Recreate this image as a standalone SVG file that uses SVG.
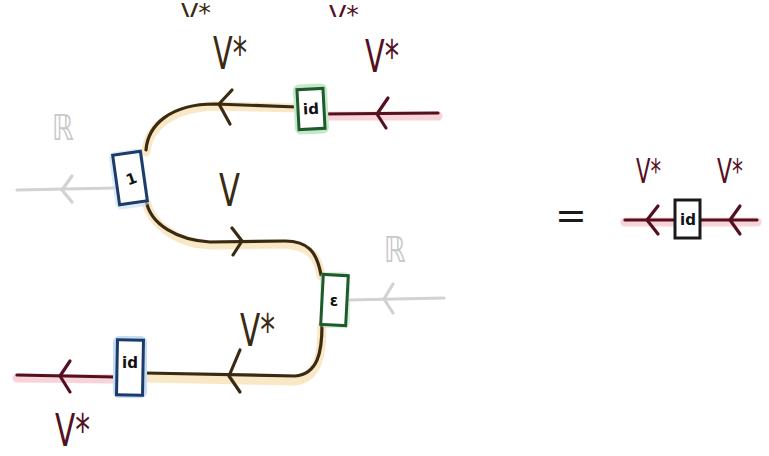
<svg xmlns="http://www.w3.org/2000/svg" width="769" height="456" viewBox="0 0 769 456">
<defs>
<clipPath id="topclip"><rect x="0" y="0" width="769" height="17"/></clipPath>
<style>
.hb{fill:none;stroke:#f8e2b8;stroke-width:9;stroke-linecap:round;opacity:0.8}
.hr{fill:none;stroke:#f6c8d0;stroke-width:9;stroke-linecap:round;opacity:0.8}
.b{fill:none;stroke:#3b2a12;stroke-width:3.2;stroke-linecap:round;stroke-linejoin:round}
.r{fill:none;stroke:#55101f;stroke-width:3.2;stroke-linecap:round;stroke-linejoin:round}
.g{fill:none;stroke:#d2d2d2;stroke-width:3.2;stroke-linecap:round;stroke-linejoin:round}
.box{fill:#ffffff;stroke-width:3}
.blue{stroke:#1b3c6b}
.green{stroke:#1d5a2c}
.blk{stroke:#1a1a1a}
.gb{fill:#c6ddf3}
.gg{fill:#c4e8c8}
.t{font-family:'DejaVu Sans','Liberation Sans',sans-serif}
.lb{fill:#3b2a12;font-size:44px}
.lr{fill:#55101f;font-size:44px}
.ls{font-size:34px}
.lc{font-size:24px}
.lg{fill:#c8c8c8;font-size:36px}
.bt{fill:#111;font-size:15px;font-weight:bold;text-anchor:middle}
</style>
</defs>
<g id="cutoff" clip-path="url(#topclip)">
<text class="t lb lc" x="181" y="21" textLength="30" lengthAdjust="spacingAndGlyphs">V*</text>
<text class="t lr lc" x="329" y="23" textLength="30" lengthAdjust="spacingAndGlyphs">V*</text>
</g>
<g id="connectors">
<path class="hb" d="M297,108 L215,106 C170,108 148,128 146,152"/>
<path class="b" d="M297,107 L215,104 C170,104 148,125 146,150"/>
<path class="hr" d="M324,116 L438,116"/>
<path class="r" d="M324,114 L438,113"/>
<path class="g" d="M115,188 L17,190"/>
<path class="hb" d="M146,202 C152,226 180,244 210,245 L285,244 C310,246 318,256 321,276"/>
<path class="b" d="M146,200 C150,225 178,240 210,242 L285,241 C308,241 317,252 321,275"/>
<path class="g" d="M348,300 L444,298"/>
<path class="hb" d="M322,326 C322,355 318,378 295,381 L145,378"/>
<path class="b" d="M322,325 C322,352 318,374 295,376 L145,373"/>
<path class="hr" d="M116,379 L17,378"/>
<path class="r" d="M116,377 L17,375"/>
<path class="hr" d="M625,222 L757,222"/>
<path class="r" d="M625,220 L675,220 M700,220 L757,220"/>
<path class="b" d="M232,90 L219,104 L230,124"/>
<path class="r" d="M388,98 L377,114 L386,128"/>
<path class="g" d="M72,176 L62,190 L72,202"/>
<path class="b" d="M232,228 L242,241 L233,255"/>
<path class="g" d="M393,284 L384,299 L393,313"/>
<path class="b" d="M240,350 L229,376 L240,392"/>
<path class="r" d="M70,361 L60,376 L70,392"/>
<path class="r" d="M658,206 L647,220 L658,234"/>
<path class="r" d="M740,206 L730,220 L740,234"/>
</g>
<g id="box-id-top">
<rect class="gg" x="294" y="84" width="34" height="50" rx="6" transform="rotate(-3 311 109)"/>
<rect class="box green" x="298" y="89" width="26" height="40" transform="rotate(-3 311 109)"/>
<text class="t bt" x="311" y="114" transform="rotate(-3 311 109)">id</text>
</g>
<g id="box-unit">
<rect class="gb" x="112" y="150" width="34" height="58" rx="6" transform="rotate(-8 130 178)" opacity="0.6"/>
<rect class="box blue" x="116" y="153" width="28" height="50" transform="rotate(-8 130 178)"/>
<text class="t bt" x="131" y="184" transform="rotate(-20 131 178)">1</text>
</g>
<g id="box-eps">
<rect class="gg" x="320" y="272" width="30" height="56" rx="6" opacity="0.6"/>
<rect class="box green" x="322" y="275" width="25" height="50" transform="rotate(3 334 300)"/>
<text class="t bt" x="334" y="306">ε</text>
</g>
<g id="box-id-bottom">
<rect class="gb" x="113" y="336" width="34" height="62" rx="6"/>
<rect class="box blue" x="117" y="340" width="26" height="55" transform="rotate(1 130 367)"/>
<text class="t bt" x="130" y="368">id</text>
</g>
<g id="box-id-right">
<rect class="box blk" x="675" y="200" width="25" height="38"/>
<text class="t bt" x="688" y="225">id</text>
</g>
<g id="labels">
<text class="t lb" x="213" y="69" textLength="34" lengthAdjust="spacingAndGlyphs">V*</text>
<text class="t lr" x="365" y="72" textLength="34" lengthAdjust="spacingAndGlyphs">V*</text>
<text class="t lg" x="52" y="140" textLength="22" lengthAdjust="spacingAndGlyphs">ℝ</text>
<text class="t lb" x="219" y="206" textLength="21" lengthAdjust="spacingAndGlyphs">V</text>
<text class="t lg" x="384" y="262" textLength="22" lengthAdjust="spacingAndGlyphs">ℝ</text>
<text class="t lb" x="240" y="346" textLength="35" lengthAdjust="spacingAndGlyphs">V*</text>
<text class="t lr" x="55" y="446" font-size="40" textLength="35" lengthAdjust="spacingAndGlyphs">V*</text>
<text class="t lr ls" x="636" y="183" textLength="25" lengthAdjust="spacingAndGlyphs">V*</text>
<text class="t lr ls" x="717" y="183" textLength="26" lengthAdjust="spacingAndGlyphs">V*</text>
<text class="t" x="555" y="228" font-size="38" fill="#1a1a1a">=</text>
</g>
</svg>
